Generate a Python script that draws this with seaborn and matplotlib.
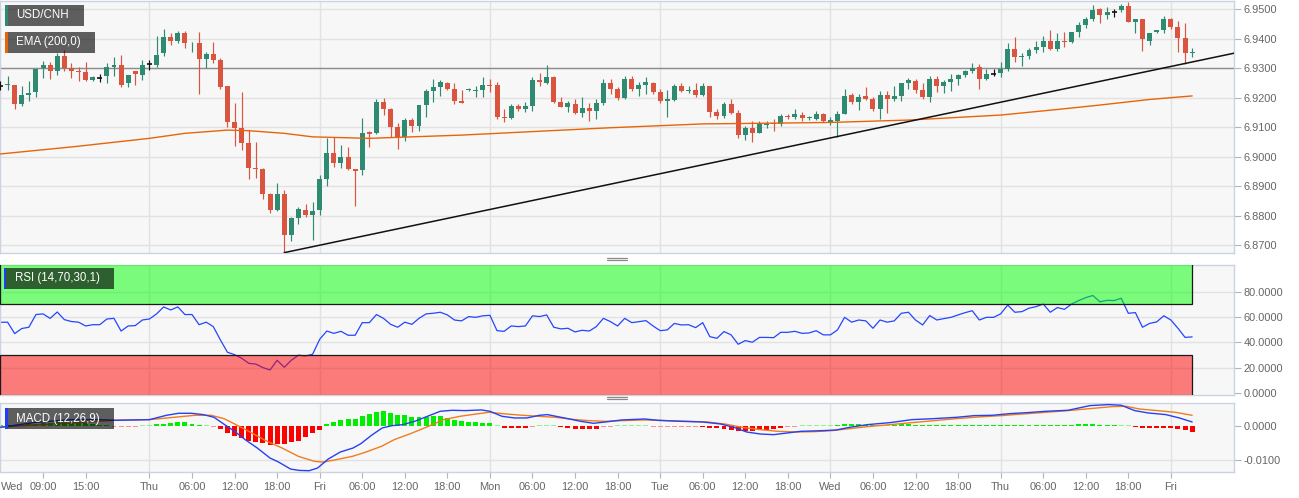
import numpy as np
import matplotlib
matplotlib.use("Agg")
import matplotlib.pyplot as plt
from matplotlib.patches import Rectangle
from matplotlib.lines import Line2D
from matplotlib.ticker import FormatStrFormatter
import seaborn as sns

# ---------------- data (hourly USD/CNH candles) ----------------
opens = [6.9240, 6.9243, 6.9243, 6.9179, 6.9210, 6.9218, 6.9300, 6.9310, 6.9289, 6.9342,
         6.9302, 6.9291, 6.9287, 6.9260, 6.9267, 6.9274, 6.9304, 6.9310, 6.9249, 6.9291,
         6.9276, 6.9313, 6.9311, 6.9351, 6.9405, 6.9394, 6.9419, 6.9384, 6.9385, 6.9333,
         6.9348, 6.9328, 6.9238, 6.9119, 6.9097, 6.9045, 6.8960, 6.8957, 6.8873, 6.8819,
         6.8873, 6.8733, 6.8790, 6.8819, 6.8802, 6.8819, 6.8923, 6.9011, 6.8977, 6.9000,
         6.8957, 6.8955, 6.9084, 6.9079, 6.9184, 6.9161, 6.9102, 6.9068, 6.9124, 6.9104,
         6.9174, 6.9224, 6.9235, 6.9249, 6.9231, 6.9190, 6.9225, 6.9224, 6.9226, 6.9244,
         6.9242, 6.9135, 6.9130, 6.9172, 6.9163, 6.9172, 6.9260, 6.9251, 6.9269, 6.9184,
         6.9170, 6.9179, 6.9147, 6.9164, 6.9156, 6.9183, 6.9249, 6.9229, 6.9198, 6.9264,
         6.9231, 6.9244, 6.9249, 6.9218, 6.9190, 6.9192, 6.9238, 6.9223, 6.9226, 6.9210,
         6.9241, 6.9153, 6.9138, 6.9178, 6.9147, 6.9075, 6.9096, 6.9081, 6.9107, 6.9113,
         6.9109, 6.9138, 6.9136, 6.9142, 6.9130, 6.9129, 6.9144, 6.9119, 6.9122, 6.9145,
         6.9208, 6.9186, 6.9205, 6.9196, 6.9162, 6.9209, 6.9195, 6.9206, 6.9251, 6.9258,
         6.9226, 6.9204, 6.9262, 6.9240, 6.9253, 6.9262, 6.9276, 6.9291, 6.9303, 6.9265,
         6.9281, 6.9283, 6.9298, 6.9365, 6.9337, 6.9342, 6.9362, 6.9372, 6.9394, 6.9365,
         6.9394, 6.9389, 6.9423, 6.9446, 6.9466, 6.9500, 6.9480, 6.9492, 6.9498, 6.9511,
         6.9458, 6.9466, 6.9391, 6.9423, 6.9430, 6.9466, 6.9439, 6.9403, 6.9352]
highs = [6.9255, 6.9272, 6.9243, 6.9240, 6.9256, 6.9298, 6.9325, 6.9322, 6.9351, 6.9362,
         6.9319, 6.9303, 6.9321, 6.9273, 6.9281, 6.9317, 6.9337, 6.9345, 6.9278, 6.9291,
         6.9328, 6.9328, 6.9410, 6.9432, 6.9419, 6.9426, 6.9426, 6.9389, 6.9422, 6.9354,
         6.9388, 6.9334, 6.9238, 6.9181, 6.9220, 6.9091, 6.9049, 6.8960, 6.8878, 6.8909,
         6.8885, 6.8794, 6.8828, 6.8839, 6.8847, 6.8938, 6.9062, 6.9066, 6.9038, 6.9032,
         6.8957, 6.9130, 6.9088, 6.9196, 6.9200, 6.9164, 6.9115, 6.9130, 6.9130, 6.9174,
         6.9229, 6.9262, 6.9260, 6.9253, 6.9249, 6.9226, 6.9233, 6.9240, 6.9271, 6.9265,
         6.9253, 6.9161, 6.9179, 6.9179, 6.9187, 6.9269, 6.9283, 6.9310, 6.9275, 6.9204,
         6.9189, 6.9197, 6.9204, 6.9183, 6.9197, 6.9262, 6.9265, 6.9235, 6.9272, 6.9272,
         6.9253, 6.9269, 6.9253, 6.9228, 6.9226, 6.9245, 6.9249, 6.9240, 6.9249, 6.9251,
         6.9241, 6.9162, 6.9186, 6.9196, 6.9158, 6.9104, 6.9122, 6.9122, 6.9122, 6.9127,
         6.9144, 6.9145, 6.9162, 6.9151, 6.9139, 6.9154, 6.9147, 6.9135, 6.9156, 6.9228,
         6.9215, 6.9213, 6.9235, 6.9204, 6.9224, 6.9224, 6.9240, 6.9251, 6.9266, 6.9262,
         6.9249, 6.9274, 6.9274, 6.9260, 6.9281, 6.9281, 6.9294, 6.9319, 6.9313, 6.9298,
         6.9298, 6.9321, 6.9385, 6.9405, 6.9353, 6.9368, 6.9394, 6.9410, 6.9430, 6.9419,
         6.9422, 6.9422, 6.9458, 6.9473, 6.9515, 6.9505, 6.9507, 6.9500, 6.9517, 6.9524,
         6.9466, 6.9466, 6.9421, 6.9431, 6.9477, 6.9469, 6.9462, 6.9452, 6.9367]
lows = [6.9225, 6.9226, 6.9161, 6.9172, 6.9189, 6.9204, 6.9266, 6.9263, 6.9278, 6.9289,
        6.9266, 6.9258, 6.9257, 6.9256, 6.9253, 6.9249, 6.9272, 6.9235, 6.9235, 6.9243,
        6.9260, 6.9294, 6.9305, 6.9342, 6.9379, 6.9387, 6.9368, 6.9354, 6.9212, 6.9302,
        6.9317, 6.9228, 6.9100, 6.9036, 6.9023, 6.8923, 6.8926, 6.8855, 6.8810, 6.8817,
        6.8674, 6.8714, 6.8771, 6.8794, 6.8717, 6.8802, 6.8900, 6.8966, 6.8960, 6.8955,
        6.8833, 6.8938, 6.9034, 6.9077, 6.9141, 6.9068, 6.9026, 6.9052, 6.9083, 6.9088,
        6.9133, 6.9187, 6.9207, 6.9226, 6.9178, 6.9183, 6.9222, 6.9204, 6.9204, 6.9218,
        6.9127, 6.9119, 6.9127, 6.9154, 6.9150, 6.9155, 6.9238, 6.9245, 6.9181, 6.9167,
        6.9150, 6.9145, 6.9136, 6.9122, 6.9127, 6.9175, 6.9213, 6.9193, 6.9195, 6.9224,
        6.9206, 6.9213, 6.9213, 6.9183, 6.9133, 6.9190, 6.9218, 6.9217, 6.9204, 6.9206,
        6.9136, 6.9128, 6.9131, 6.9145, 6.9062, 6.9057, 6.9049, 6.9079, 6.9096, 6.9088,
        6.9104, 6.9127, 6.9129, 6.9120, 6.9125, 6.9125, 6.9118, 6.9106, 6.9068, 6.9145,
        6.9179, 6.9158, 6.9191, 6.9156, 6.9127, 6.9147, 6.9189, 6.9190, 6.9229, 6.9215,
        6.9195, 6.9187, 6.9219, 6.9217, 6.9224, 6.9242, 6.9271, 6.9285, 6.9229, 6.9260,
        6.9274, 6.9271, 6.9292, 6.9322, 6.9309, 6.9333, 6.9351, 6.9356, 6.9362, 6.9360,
        6.9373, 6.9385, 6.9405, 6.9436, 6.9462, 6.9452, 6.9467, 6.9475, 6.9492, 6.9458,
        6.9421, 6.9360, 6.9379, 6.9421, 6.9419, 6.9432, 6.9356, 6.9314, 6.9339]
closes = [6.9240, 6.9245, 6.9179, 6.9209, 6.9216, 6.9298, 6.9310, 6.9289, 6.9342, 6.9302,
          6.9290, 6.9287, 6.9260, 6.9269, 6.9267, 6.9303, 6.9310, 6.9243, 6.9276, 6.9280,
          6.9311, 6.9313, 6.9344, 6.9405, 6.9394, 6.9419, 6.9385, 6.9387, 6.9333, 6.9348,
          6.9328, 6.9235, 6.9119, 6.9097, 6.9045, 6.8963, 6.8957, 6.8873, 6.8819, 6.8873,
          6.8733, 6.8790, 6.8821, 6.8802, 6.8817, 6.8924, 6.9011, 6.8977, 6.9000, 6.8957,
          6.8952, 6.9081, 6.9077, 6.9184, 6.9161, 6.9102, 6.9068, 6.9124, 6.9104, 6.9174,
          6.9224, 6.9235, 6.9252, 6.9231, 6.9190, 6.9183, 6.9231, 6.9227, 6.9243, 6.9240,
          6.9133, 6.9130, 6.9172, 6.9163, 6.9173, 6.9260, 6.9252, 6.9269, 6.9184, 6.9170,
          6.9181, 6.9147, 6.9164, 6.9156, 6.9181, 6.9250, 6.9229, 6.9198, 6.9264, 6.9230,
          6.9243, 6.9253, 6.9218, 6.9190, 6.9195, 6.9238, 6.9223, 6.9227, 6.9210, 6.9241,
          6.9153, 6.9138, 6.9179, 6.9147, 6.9075, 6.9096, 6.9081, 6.9110, 6.9111, 6.9109,
          6.9137, 6.9135, 6.9143, 6.9131, 6.9134, 6.9144, 6.9122, 6.9125, 6.9144, 6.9207,
          6.9186, 6.9204, 6.9196, 6.9162, 6.9209, 6.9195, 6.9206, 6.9251, 6.9260, 6.9226,
          6.9202, 6.9262, 6.9240, 6.9253, 6.9264, 6.9277, 6.9291, 6.9302, 6.9265, 6.9281,
          6.9281, 6.9298, 6.9365, 6.9337, 6.9343, 6.9362, 6.9372, 6.9394, 6.9365, 6.9394,
          6.9389, 6.9422, 6.9446, 6.9467, 6.9498, 6.9480, 6.9492, 6.9492, 6.9511, 6.9458,
          6.9466, 6.9398, 6.9421, 6.9429, 6.9466, 6.9441, 6.9403, 6.9353, 6.9355]

# EMA(200) readings (candle index, value)
ema_idx = [0, 10.5, 21, 26, 32, 35, 40, 44, 52, 65, 86, 99, 107, 117, 128, 141, 149, 155, 162, 168]
ema_val = [6.9009, 6.9034, 6.9062, 6.9079, 6.9090, 6.9088, 6.9079, 6.9067, 6.9062, 6.9073,
           6.9098, 6.9111, 6.9113, 6.9116, 6.9124, 6.9141, 6.9160, 6.9175, 6.9194, 6.9206]

# trend line anchors and horizontal level
trend_idx = [40, 173.9]
trend_price = [6.8674, 6.9351]
hline_level = 6.9300

# RSI(14) per candle
rsi_vals = [55.9, 56, 47, 51, 52, 62, 62.5, 59, 64, 58,
            56.5, 56, 53, 54, 54, 58.5, 59, 49, 53, 53.3,
            57.7, 58.5, 62.5, 68, 65.6, 68, 62, 62, 54, 56,
            52.5, 42, 32.3, 30.4, 27.6, 23.6, 23, 20.2, 18.4, 26,
            20.5, 26, 30, 29.4, 30.7, 42.5, 49, 47.2, 48.8, 45.7,
            45.7, 55.6, 55.6, 62, 59, 54.3, 52, 56, 54.3, 59,
            62.5, 63, 63.8, 61.7, 57.7, 57, 60.4, 59.8, 61, 61.4,
            49.3, 48.8, 53, 52.5, 53, 61, 60.4, 61.7, 52, 50.7,
            51.2, 48.3, 49.6, 49, 52.5, 59, 56.4, 53, 59, 55.6,
            56.4, 57.2, 53, 49.3, 49.9, 55, 53.8, 54, 51.7, 55.6,
            44.6, 43.3, 48.6, 46, 38.6, 41.5, 40.2, 44, 44, 43.8,
            48, 48, 48.8, 47.2, 47.5, 49.3, 46, 46, 49.9, 59.8,
            56, 57.7, 57, 51.2, 57.7, 56, 57, 63, 63.8, 57.7,
            53.8, 61.2, 57.7, 58.8, 59.8, 61.7, 63.5, 65, 57.7, 59.8,
            59.8, 62.5, 69.5, 63.8, 64.3, 67, 68.2, 70.3, 63.8, 67.5,
            66.1, 70.3, 73, 75.3, 77, 72, 73.2, 73, 74.8, 63,
            63.5, 52, 55, 56.2, 61, 57.7, 51.2, 44, 44.4]
rsi_upper = 70
rsi_lower = 30

# MACD(12,26,9) line readings
macd_idx = [0, 5, 10, 14, 16.1, 21, 23.4, 25.1, 26.9, 28.6, 30.1, 31.6, 33, 34.5, 36.2, 38,
            39.2, 40.9, 42.1, 43.5, 44.7, 46.2, 47.9, 49.7, 50.8, 52.3, 53.8, 55.2, 56.7,
            58.4, 60.2, 62, 63.7, 65.5, 67.8, 69, 70.7, 72.5, 74.2, 76, 77.1, 79.5, 81.8,
            83.6, 85.3, 87.6, 90.8, 92.7, 95.8, 99, 101.5, 103.4, 105.2, 107.1, 109, 110.9,
            112.8, 115.9, 117.8, 119.7, 122.2, 125.4, 128.5, 131.6, 134.8, 137.3, 139.8,
            142.3, 144.8, 147.4, 150.5, 153.6, 156.2, 158, 159.9, 161.8, 164.3, 166.2, 168]
macd_vals = [-0.0003, 0.0012, 0.0020, 0.0020, 0.0018, 0.0020, 0.0033, 0.0039, 0.0039, 0.0035,
             0.0027, 0.0005, -0.0015, -0.0040, -0.0065, -0.0095, -0.0107, -0.0128, -0.0132,
             -0.0133, -0.0125, -0.0098, -0.0077, -0.0065, -0.0052, -0.0027, -0.0005, 0.0002,
             0.0005, 0.0015, 0.0030, 0.0045, 0.0048, 0.0047, 0.0049, 0.0045, 0.0030, 0.0025,
             0.0025, 0.0033, 0.0035, 0.0025, 0.0015, 0.0009, 0.0013, 0.0019, 0.0022, 0.0018,
             0.0015, 0.0013, 0.0007, -0.0003, -0.0017, -0.0023, -0.0025, -0.0020, -0.0015,
             -0.0013, -0.0011, -0.0003, 0.0005, 0.0011, 0.0020, 0.0023, 0.0027, 0.0032,
             0.0033, 0.0038, 0.0041, 0.0045, 0.0048, 0.0062, 0.0065, 0.0063, 0.0047, 0.0040,
             0.0035, 0.0025, 0.0013]
signal_idx = [0, 5, 10, 14, 16, 21, 24.5, 27.4, 29.7, 31.5, 33.2, 35, 37.3, 39.7, 42, 44.3,
              45.5, 47.3, 49.6, 51.4, 53.7, 55.5, 57.8, 60.1, 62.5, 64.8, 67.1, 68.9, 71.2,
              73.6, 75.9, 78.2, 80.6, 82.9, 85.3, 87.6, 90.8, 93.9, 97, 99.6, 102.1, 104.6,
              107.1, 109.6, 112.2, 114.7, 117.2, 119.7, 122.2, 125.4, 128.5, 131.6, 134.8,
              137.9, 141.1, 144.2, 147.4, 150.5, 153.6, 156.8, 158.7, 160.5, 163.1, 165.6, 168]
signal_vals = [-0.0002, 0.0004, 0.0010, 0.0015, 0.0018, 0.0020, 0.0027, 0.0033, 0.0033, 0.0023,
               0.0005, -0.0015, -0.0042, -0.0065, -0.0090, -0.0105, -0.0107, -0.0100, -0.0090,
               -0.0078, -0.0060, -0.0040, -0.0022, -0.0002, 0.0020, 0.0030, 0.0037, 0.0042,
               0.0037, 0.0033, 0.0030, 0.0027, 0.0021, 0.0017, 0.0015, 0.0017, 0.0019, 0.0017,
               0.0015, 0.0013, 0.0007, -0.0003, -0.0010, -0.0015, -0.0017, -0.0016, -0.0013,
               -0.0007, -0.0001, 0.0005, 0.0011, 0.0017, 0.0023, 0.0028, 0.0032, 0.0037,
               0.0042, 0.0047, 0.0053, 0.0059, 0.0060, 0.0052, 0.0047, 0.0042, 0.0033]
# MACD histogram per candle
hist_vals = [0.0003, 0.0004, 0.0004, 0.0005, 0.0006, 0.0008, 0.0010, 0.0011, 0.0012, 0.0012,
             0.0011, 0.0010, 0.0009, 0.0007, 0.0005, 0.0003, -0.0001, -0.0002, -0.0002, -0.0001,
             0.0001, 0.0002, 0.0006, 0.0008, 0.0010, 0.0012, 0.0012, 0.0008, 0.0003, 0.0002,
             -0.0001, -0.0007, -0.0021, -0.0030, -0.0035, -0.0045, -0.0047, -0.0051, -0.0055, -0.0053,
             -0.0052, -0.0048, -0.0043, -0.0033, -0.0020, -0.0010, 0.0007, 0.0013, 0.0020, 0.0022,
             0.0023, 0.0032, 0.0037, 0.0043, 0.0045, 0.0040, 0.0035, 0.0033, 0.0028, 0.0028,
             0.0028, 0.0032, 0.0030, 0.0025, 0.0020, 0.0015, 0.0013, 0.0013, 0.0011, 0.0010,
             0.0001, -0.0005, -0.0005, -0.0005, -0.0005, -0.0001, 0.0001, 0.0001, 0.0001, -0.0003,
             -0.0005, -0.0007, -0.0008, -0.0008, -0.0008, -0.0002, -0.0001, 0.0001, 0.0001, 0.0001,
             0.0001, 0.0001, -0.0001, -0.0001, -0.0001, -0.0002, -0.0002, -0.0001, -0.0001, -0.0003,
             -0.0005, -0.0006, -0.0008, -0.0010, -0.0015, -0.0014, -0.0013, -0.0012, -0.0010, -0.0008,
             -0.0004, -0.0002, -0.0001, 0.0000, 0.0001, 0.0001, 0.0001, 0.0002, 0.0003, 0.0006,
             0.0008, 0.0007, 0.0005, 0.0004, 0.0003, 0.0002, 0.0004, 0.0006, 0.0006, 0.0005,
             0.0004, 0.0004, 0.0003, 0.0004, 0.0003, 0.0003, 0.0003, 0.0004, 0.0003, 0.0003,
             0.0003, 0.0004, 0.0004, 0.0004, 0.0004, 0.0004, 0.0004, 0.0004, 0.0005, 0.0005,
             0.0004, 0.0005, 0.0006, 0.0007, 0.0006, 0.0005, 0.0005, 0.0004, 0.0001, 0.0000,
             -0.0003, -0.0004, -0.0004, -0.0004, -0.0005, -0.0006, -0.0008, -0.0010, -0.0018]

# time axis (candle index of each label)
tick_pos = [6, 12, 21, 27, 33, 39, 45, 51, 57, 63, 69, 75, 81, 87, 93, 99, 105, 111,
            117, 123, 129, 135, 141, 147, 153, 159, 165]
tick_labels = ["09:00", "15:00", "Thu", "06:00", "12:00", "18:00", "Fri", "06:00", "12:00",
               "18:00", "Mon", "06:00", "12:00", "18:00", "Tue", "06:00", "12:00", "18:00",
               "Wed", "06:00", "12:00", "18:00", "Thu", "06:00", "12:00", "18:00", "Fri"]
first_day_label = "Wed"

price_ticks = [6.87, 6.88, 6.89, 6.90, 6.91, 6.92, 6.93, 6.94, 6.95]
rsi_ticks = [0, 20, 40, 60, 80]
macd_ticks = [-0.01, 0.0]

legend_main = "USD/CNH"
legend_ema = "EMA (200,0)"
legend_rsi = "RSI (14,70,30,1)"
legend_macd = "MACD (12,26,9)"

# ---------------- style ----------------
sns.set_theme(style="white")
plt.rcParams['font.family'] = ['Liberation Sans', 'DejaVu Sans']
plt.rcParams['axes.unicode_minus'] = False

UP = '#2e8a71'
DN = '#d9553f'
DOJI = '#111111'
EMA_C = '#e8640a'
BG = '#f7f7f7'
GRID = '#e2e2e2'
SPINE = '#cbd2e0'
LBL = '#666666'
FS = 7.9

W, H = 1299, 498
fig = plt.figure(figsize=(W / 100, H / 100), dpi=100)
fig.patch.set_facecolor('white')


def ax_rect(top, bottom, left=0, right=1234):
    return [left / W, 1 - bottom / H, (right - left) / W, (bottom - top) / H]


ax1 = fig.add_axes(ax_rect(1, 253))
ax2 = fig.add_axes(ax_rect(265, 395), sharex=ax1)
ax3 = fig.add_axes(ax_rect(403, 472), sharex=ax1)

n = len(closes)
xi = np.arange(n)
XL = (-0.07, 173.9)
day_pos = [p for p, t in zip(tick_pos, tick_labels) if ':' not in t]

for ax in (ax1, ax2, ax3):
    ax.set_facecolor(BG)
    ax.grid(False)
    for s in ax.spines.values():
        s.set_color(SPINE)
        s.set_linewidth(1.0)
    ax.yaxis.tick_right()
    ax.tick_params(axis='y', direction='out', length=5, width=0.8, color='#b0b6c0',
                   labelcolor=LBL, labelsize=FS, pad=2, left=False, right=True)
    for d in day_pos:
        ax.axvline(d, color=GRID, lw=1, zorder=0)

# ---------------- main panel ----------------
ax1.set_xlim(*XL)
ax1.set_ylim(6.86728, 6.95282)
ax1.set_yticks(price_ticks)
ax1.yaxis.set_major_formatter(FormatStrFormatter('%.4f'))
for p in price_ticks:
    ax1.axhline(p, color=GRID, lw=1, zorder=0)
ax1.axhline(hline_level, color='#8c8c8c', lw=1.0, zorder=1)

o = np.array(opens); h = np.array(highs); l = np.array(lows); c = np.array(closes)
up = c > o
dn = c < o
dj = c == o
bw = 0.7
min_h = 0.00025
bot = np.minimum(o, c)
hgt = np.maximum(np.abs(c - o), min_h)
for mask, col in ((up, UP), (dn, DN), (dj, DOJI)):
    ax1.vlines(xi[mask], l[mask], h[mask], color=col, lw=0.85, zorder=3)
ax1.bar(xi[up], hgt[up], bottom=bot[up], width=bw, color=UP, lw=0, zorder=4)
ax1.bar(xi[dn], hgt[dn], bottom=bot[dn], width=bw, color=DN, lw=0, zorder=4)
ax1.hlines(c[dj], xi[dj] - bw / 2, xi[dj] + bw / 2, color=DOJI, lw=1.2, zorder=4)

sns.lineplot(x=ema_idx, y=ema_val, ax=ax1, color=EMA_C, linewidth=1.0, zorder=5)
sns.lineplot(x=trend_idx, y=trend_price, ax=ax1, color='#111111', linewidth=1.1, zorder=6)
ax1.tick_params(axis='x', length=0, labelbottom=False)
ax1.set_xlabel(''); ax1.set_ylabel('')

# ---------------- RSI panel ----------------
ax2.set_ylim(-1.34, 101.0)
ax2.set_yticks(rsi_ticks)
ax2.yaxis.set_major_formatter(FormatStrFormatter('%.4f'))
for p in rsi_ticks[1:]:
    ax2.axhline(p, color=GRID, lw=1, zorder=0)
sns.lineplot(x=xi, y=rsi_vals, ax=ax2, color='#2346ff', linewidth=0.9, zorder=2)
ax2.add_patch(Rectangle((XL[0], rsi_upper), (n - 1) - XL[0], 103 - rsi_upper,
                        facecolor=(0, 1, 0, 0.5), edgecolor='#1a1a1a', lw=0.9, zorder=3))
ax2.add_patch(Rectangle((XL[0], -3), (n - 1) - XL[0], rsi_lower + 3,
                        facecolor=(1, 0, 0, 0.5), edgecolor='#1a1a1a', lw=0.9, zorder=3))
ax2.tick_params(axis='x', length=0, labelbottom=False)
ax2.set_xlabel(''); ax2.set_ylabel('')

# ---------------- MACD panel ----------------
ax3.set_ylim(-0.01368, 0.00698)
ax3.set_yticks(macd_ticks)
ax3.yaxis.set_major_formatter(FormatStrFormatter('%.4f'))
ax3.axhline(-0.01, color=GRID, lw=1, zorder=0)
hv = np.array(hist_vals)
pos = hv >= 0
hb = np.where(pos, np.maximum(hv, 0.00025), np.minimum(hv, -0.00025))
small = np.abs(hv) < 0.00025
ax3.bar(xi[pos & ~small], hb[pos & ~small], width=bw, color='#00ee00', lw=0, zorder=2)
ax3.bar(xi[~pos & ~small], hb[~pos & ~small], width=bw, color='#ff0000', lw=0, zorder=2)
ax3.bar(xi[pos & small], hb[pos & small], width=bw, color='#8ef58e', lw=0, zorder=2)
ax3.bar(xi[~pos & small], hb[~pos & small], width=bw, color='#ff9090', lw=0, zorder=2)
sns.lineplot(x=macd_idx, y=macd_vals, ax=ax3, color='#2541f2', linewidth=1.0, zorder=4)
sns.lineplot(x=signal_idx, y=signal_vals, ax=ax3, color='#f27b1c', linewidth=1.0, zorder=3)
ax3.set_xticks(tick_pos)
ax3.set_xticklabels(tick_labels)
ax3.tick_params(axis='x', direction='out', length=4, width=0.8, color='#b0b6c0',
                labelcolor=LBL, labelsize=FS, pad=3, bottom=True)
ax3.set_xlabel(''); ax3.set_ylabel('')
ax3.set_xlim(*XL)
fig.canvas.draw()
lab0 = ax3.get_xticklabels()[0]
wed_y = lab0.get_position()[1]
ax3.text(0.0, wed_y, first_day_label, transform=lab0.get_transform(), ha='left',
         va=lab0.get_va(), fontsize=FS, color=LBL)


# ---------------- legend boxes & separators ----------------
def fig_box(x0, y0, x1, y1, **kw):
    fig.add_artist(Rectangle((x0 / W, 1 - y1 / H), (x1 - x0) / W, (y1 - y0) / H,
                             transform=fig.transFigure, **kw))


def legend(x0, y0, x1, y1, stripe, text):
    fig_box(x0, y0, x1, y1, facecolor=(0, 0, 0, 0.62), edgecolor='none', zorder=10)
    fig_box(x0, y0, x0 + 2.5, y1, facecolor=stripe, edgecolor='none', zorder=11)
    fig.text((x0 + 11) / W, 1 - ((y0 + y1) / 2) / H, text, color='white', fontsize=8.3,
             ha='left', va='center', zorder=12)


legend(5, 5, 84, 26, UP, legend_main)
legend(5, 32, 95, 53, EMA_C, legend_ema)
legend(4, 268, 114, 289, '#1f3df5', legend_rsi)
legend(5, 408, 114, 429, '#1f3df5', legend_macd)

for yy in (257.5, 259.5, 396.5, 398.5):
    fig.add_artist(Line2D([607 / W, 627 / W], [1 - yy / H, 1 - yy / H],
                          transform=fig.transFigure, color='#8a8a8a', lw=0.9))

fig.savefig('out.png', dpi=100, facecolor='white')
